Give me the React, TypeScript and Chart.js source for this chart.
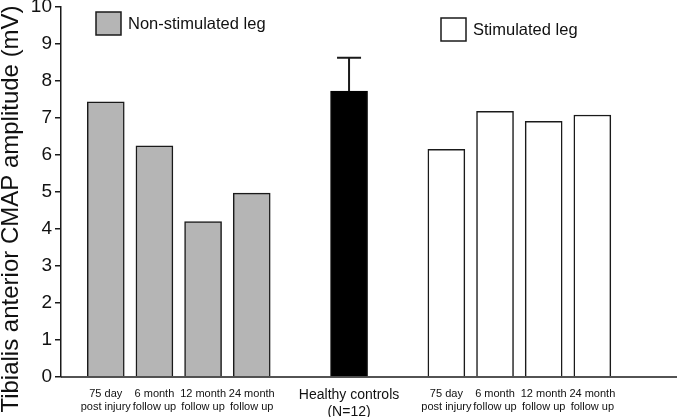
import React, { useEffect, useRef } from "react";
import { Chart, registerables } from "chart.js";

Chart.register(...registerables);

const nonStimLabels = [["75 day", "post injury"], ["6 month", "follow up"], ["12 month", "follow up"], ["24 month", "follow up"]];
const controlLabel = [["Healthy controls", "(N=12)"]];
const stimLabels = [["75 day", "post injury"], ["6 month", "follow up"], ["12 month", "follow up"], ["24 month", "follow up"]];

const nonStimValues = [7.44, 6.25, 4.2, 4.97];
const controlValues = [7.73];
const controlSD = [0.9];
const stimValues = [6.15, 7.18, 6.91, 7.08];

const yTicks = [0, 1, 2, 3, 4, 5, 6, 7, 8, 9, 10];
const yTitle = "Tibialis anterior CMAP amplitude (mV)";
const legendNames = ["Non-stimulated leg", "Stimulated leg"];

const FONT = "'Liberation Sans', Arial, Helvetica, sans-serif";
const GRAY = "#b5b5b5";

// slot indices: groups separated by one empty slot
const nonStimIdx = nonStimValues.map((_, i) => i);
const controlIdx = controlValues.map((_, i) => nonStimValues.length + 1 + i);
const stimIdx = stimValues.map((_, i) => nonStimValues.length + 1 + controlValues.length + 1 + i);

const labelMap = new Map<number, string[]>();
nonStimIdx.forEach((x, i) => labelMap.set(x, nonStimLabels[i]));
controlIdx.forEach((x, i) => labelMap.set(x, controlLabel[i]));
stimIdx.forEach((x, i) => labelMap.set(x, stimLabels[i]));
const allIdx = [...nonStimIdx, ...controlIdx, ...stimIdx];

export default function App() {
  const ref = useRef<HTMLCanvasElement | null>(null);
  useEffect(() => {
    document.body.style.margin = "0";
    const canvas = ref.current;
    if (!canvas) return;

    const errorBars = {
      id: "errorBars",
      afterDatasetsDraw(chart: any) {
        const meta = chart.getDatasetMeta(1);
        const ys = chart.scales.y;
        const ctx = chart.ctx;
        ctx.save();
        ctx.strokeStyle = "#1a1a1a";
        ctx.lineWidth = 2;
        meta.data.forEach((bar: any, i: number) => {
          const top = ys.getPixelForValue(controlValues[i]);
          const hi = ys.getPixelForValue(controlValues[i] + controlSD[i]);
          ctx.beginPath();
          ctx.moveTo(bar.x, top);
          ctx.lineTo(bar.x, hi);
          ctx.moveTo(bar.x - 12, hi);
          ctx.lineTo(bar.x + 12, hi);
          ctx.stroke();
        });
        ctx.restore();
      },
    };

    const customLegend = {
      id: "customLegend",
      afterDraw(chart: any) {
        const ctx = chart.ctx;
        ctx.save();
        const items = [
          { x: 96, y: 12, fill: GRAY, text: legendNames[0] },
          { x: 441, y: 18, fill: "#ffffff", text: legendNames[1] },
        ];
        items.forEach((it) => {
          ctx.fillStyle = it.fill;
          ctx.strokeStyle = "#1a1a1a";
          ctx.lineWidth = 1.5;
          ctx.fillRect(it.x, it.y, 25, 23);
          ctx.strokeRect(it.x, it.y, 25, 23);
          ctx.fillStyle = "#111";
          ctx.font = `16.5px ${FONT}`;
          ctx.textBaseline = "middle";
          ctx.textAlign = "left";
          ctx.fillText(it.text, it.x + 32, it.y + 12);
        });
        // y-axis title
        ctx.translate(11, 209);
        ctx.rotate(-Math.PI / 2);
        ctx.font = `24px ${FONT}`;
        ctx.textAlign = "center";
        ctx.textBaseline = "middle";
        ctx.fillStyle = "#111";
        ctx.fillText(yTitle, 0, 0);
        ctx.restore();
      },
    };

    const baseline = {
      id: "baseline",
      afterDraw(chart: any) {
        const { ctx, chartArea } = chart;
        ctx.save();
        ctx.strokeStyle = "#1a1a1a";
        ctx.lineWidth = 1.5;
        ctx.beginPath();
        ctx.moveTo(chartArea.left, chartArea.bottom);
        ctx.lineTo(chart.width, chartArea.bottom);
        ctx.stroke();
        ctx.restore();
      },
    };

    const chart = new Chart(canvas, {
      type: "bar",
      data: {
        datasets: [
          {
            label: legendNames[0],
            data: nonStimIdx.map((x, i) => ({ x, y: nonStimValues[i] })),
            backgroundColor: GRAY,
            borderColor: "#1a1a1a",
            borderWidth: 1.5,
          },
          {
            label: "Healthy controls",
            data: controlIdx.map((x, i) => ({ x, y: controlValues[i] })),
            backgroundColor: "#000000",
            borderColor: "#000000",
            borderWidth: 1,
          },
          {
            label: legendNames[1],
            data: stimIdx.map((x, i) => ({ x, y: stimValues[i] })),
            backgroundColor: "#ffffff",
            borderColor: "#1a1a1a",
            borderWidth: 1.5,
          },
        ],
      },
      options: {
        animation: false,
        responsive: false,
        maintainAspectRatio: false,
        layout: { padding: { top: 7, right: 0, left: 0, bottom: 0 } },
        datasets: { bar: { grouped: false, barThickness: 37 } } as any,
        plugins: { legend: { display: false }, tooltip: { enabled: false } },
        scales: {
          x: {
            type: "linear",
            offset: false,
            min: -0.92,
            max: 11.74,
            grid: { display: false, drawTicks: false, offset: false },
            border: { display: false },
            afterBuildTicks: (scale: any) => {
              scale.ticks = allIdx.map((v) => ({ value: v }));
            },
            afterFit: (scale: any) => {
              scale.height = 40;
              scale.paddingLeft = 0;
              scale.paddingRight = 0;
            },
            ticks: {
              autoSkip: false,
              maxRotation: 0,
              padding: 10,
              color: "#111",
              font: (ctx: any) =>
                controlIdx.includes(ctx.tick?.value)
                  ? { family: FONT, size: 14 }
                  : { family: FONT, size: 11 },
              callback: (v: any) => labelMap.get(Number(v)) ?? "",
            },
          },
          y: {
            min: 0,
            max: 10,
            afterBuildTicks: (scale: any) => {
              scale.ticks = yTicks.map((v) => ({ value: v }));
            },
            afterFit: (scale: any) => {
              scale.width = 61;
              scale.paddingTop = 0;
              scale.paddingBottom = 0;
            },
            grid: { drawOnChartArea: false, tickLength: 6, color: "#1a1a1a", lineWidth: 1.5 },
            border: { display: true, color: "#1a1a1a", width: 1.5 },
            ticks: { color: "#111", font: { family: FONT, size: 19 }, padding: 3 },
          },
        },
      },
      plugins: [errorBars, baseline, customLegend],
    });
    return () => chart.destroy();
  }, []);
  return (
    <div style={{ width: 677, height: 417 }}>
      <canvas ref={ref} width={677} height={417} style={{ display: "block" }} />
    </div>
  );
}
